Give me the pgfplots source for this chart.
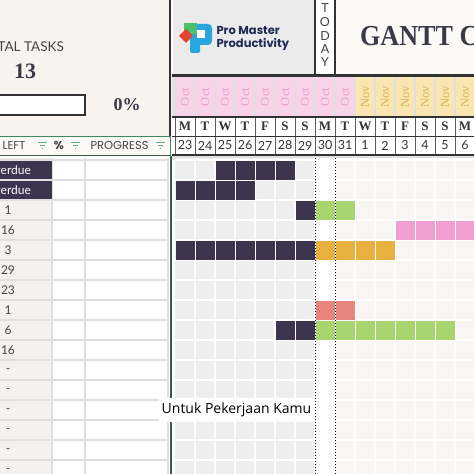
\documentclass[border=0pt]{standalone}
\usepackage{pgfplots}
\pgfplotsset{compat=1.18}
\usepackage{fontspec}
\setmainfont{Lato}
\newfontfamily\serifb{Liberation Serif}
\newfontfamily\popp{Poppins}
\newfontfamily\osans{Open Sans}
\definecolor{cream}{HTML}{F7F4F0}
\definecolor{headcream}{HTML}{FCFAF7}
\definecolor{logogray}{HTML}{EBEBEB}
\definecolor{darkline}{HTML}{333333}
\definecolor{navy}{HTML}{1D2B56}
\definecolor{gantttext}{HTML}{3B3946}
\definecolor{pinkcell}{HTML}{F8D3E9}
\definecolor{pinktext}{HTML}{E9A3CB}
\definecolor{yellowcell}{HTML}{FBE5B0}
\definecolor{yellowtext}{HTML}{D6B457}
\definecolor{pastcell}{HTML}{EEEEEE}
\definecolor{futurecell}{HTML}{F8F5F2}
\definecolor{bardark}{HTML}{3D3550}
\definecolor{bargreen}{HTML}{A8D46F}
\definecolor{barpink}{HTML}{EF9FD2}
\definecolor{barorange}{HTML}{E9B03F}
\definecolor{barsalmon}{HTML}{E8847E}
\definecolor{leftcol}{HTML}{F5F1EE}
\definecolor{gridgray}{HTML}{E0E0E0}
\definecolor{greenline}{HTML}{3E8A60}
\definecolor{darkgreen}{HTML}{40594B}
\definecolor{filtericon}{HTML}{6AA585}
\definecolor{textgray}{HTML}{444444}
\definecolor{logoblue}{HTML}{2AA6DF}
\definecolor{logogreen}{HTML}{4CBF6B}
\definecolor{logored}{HTML}{E2452F}

\pgfplotstableread{
col row
2 1
3 1
4 1
5 1
0 2
1 2
2 2
3 2
6 3
0 5
1 5
2 5
3 5
4 5
5 5
6 5
5 9
6 9
}\darkbars
\pgfplotstableread{
col row
7 3
8 3
7 9
8 9
9 9
10 9
11 9
12 9
13 9
}\greenbars
\pgfplotstableread{
col row
11 4
12 4
13 4
14 4
}\pinkbars
\pgfplotstableread{
col row
7 5
8 5
9 5
10 5
}\orangebars
\pgfplotstableread{
col row
7 8
8 8
}\salmonbars

\begin{document}
\begin{tikzpicture}
% ---------- decorations in pixel coordinates (x right, y down) ----------
\begin{scope}[shift={(0pt,474pt)}, x=1pt, y=-1pt]
  % left top panel
  \fill[cream] (0,0) rectangle (172,136);
  \node[anchor=east, inner sep=0pt, font=\fontsize{13.5}{13.5}\selectfont, text=textgray] at (64,47) {TOTAL TASKS};
  \node[font=\serifb\bfseries\fontsize{22}{22}\selectfont, text=gantttext] at (25,71) {13};
  \draw[line width=2pt, darkline, fill=white] (-5,95.5) rectangle (84.5,115.5);
  \node[font=\serifb\bfseries\fontsize{18}{18}\selectfont, text=gantttext] at (127,105) {0\%};
  \draw[line width=2pt, darkline] (169.5,0) -- (169.5,136);
  % header row of table
  \fill[headcream] (0,136) rectangle (170,156);
  \draw[greenline, line width=1pt] (0,136.5) -- (170.5,136.5) -- (170.5,156);
  \draw[darkgreen, line width=1.2pt] (0,155.5) -- (170,155.5);
  \node[anchor=west, font=\popp\fontsize{11.5}{11.5}\selectfont, text=textgray] at (-1,145.5) {LEFT};
  \node[font=\popp\bfseries\fontsize{11.5}{11.5}\selectfont, text=textgray] at (59,145.5) {\%};
  \node[anchor=west, font=\popp\fontsize{11.5}{11.5}\selectfont, text=textgray] at (87,145.5) {PROGRESS};
  \foreach \fx in {42.5,75.5,160.5}{
    \draw[filtericon, line width=1pt] (\fx-4.5,142.5) -- (\fx+4.5,142.5);
    \draw[filtericon, line width=1pt] (\fx-2.5,145.5) -- (\fx+2.5,145.5);
    \draw[filtericon, line width=1pt] (\fx-0.8,148.5) -- (\fx+0.8,148.5);
  }
  % table body
  \fill[white] (0,156) rectangle (172,474);
  \fill[leftcol] (0,158) rectangle (52,474);
  \foreach \yy in {160,180,...,460}{
    \draw[gridgray, line width=1.5pt] (0,\yy) -- (168,\yy);
  }
  \draw[gridgray, line width=1.5pt] (52,158) -- (52,474);
  \draw[gridgray, line width=1.5pt] (85,158) -- (85,474);
  \draw[gridgray, line width=1.5pt] (168,158) -- (168,474);
  \fill[bardark] (0,161) rectangle (51.5,179.5);
  \fill[bardark] (0,181) rectangle (51.5,199.5);
  \node[font=\fontsize{12}{12}\selectfont, text=white] at (8,170) {Overdue};
  \node[font=\fontsize{12}{12}\selectfont, text=white] at (8,190) {Overdue};
  \foreach \v [count=\i] in {1,16,3,29,23,1,6,16,-,-,-,-,-,-}{
    \node[font=\fontsize{12}{12}\selectfont, text=textgray] at (8,190+20*\i) {\v};
  }
  \draw[darkgreen, line width=2pt] (171,156) -- (171,474);
  % gantt header
  \fill[logogray] (173,0) rectangle (314,74);
  \fill[white] (314,0) rectangle (336,74);
  \fill[headcream] (336,0) rectangle (474,74);
  \draw[darkline, line width=2pt] (315,0) -- (315,75);
  \draw[darkline, line width=2pt] (335,0) -- (335,75);
  \foreach \ch/\yy in {T/8,O/22,D/36,A/49,Y/62}{
    \node[font=\fontsize{12.5}{12.5}\selectfont, text=textgray] at (325,\yy) {\ch};
  }
  \node[anchor=base west, font=\serifb\bfseries\fontsize{29}{29}\selectfont, text=gantttext, xscale=0.9] at (357,46) {GANTT CHART};
  % logo
  \fill[logoblue, rounded corners=4pt] (190,24) rectangle (212,45);
  \fill[logoblue, rounded corners=2pt] (190,30) rectangle (200,53);
  \fill[white] (197,30) rectangle (205,38);
  \fill[logogreen] (184,23) rectangle (197,34);
  \fill[logored] (179,36) -- (186,29) -- (193,36) -- (186,43) -- cycle;
  \node[anchor=west, font=\popp\bfseries\fontsize{11.5}{11.5}\selectfont, text=navy] at (213,31) {Pro Master};
  \node[anchor=west, font=\popp\bfseries\fontsize{11.5}{11.5}\selectfont, text=navy] at (213,44) {Productivity};
  % month row
  \fill[darkline] (172,74) rectangle (474,77);
  \fill[gridgray] (172,77) rectangle (474,117);
  \foreach \i in {0,...,8}{
    \fill[pinkcell] (175.6+20*\i,77) rectangle (194.4+20*\i,116.5);
    \node[rotate=90, font=\serifb\fontsize{12.5}{12.5}\selectfont, text=pinktext] at (185+20*\i,97) {Oct};
  }
  \foreach \i in {9,...,14}{
    \fill[yellowcell] (175.6+20*\i,77) rectangle (194.4+20*\i,116.5);
    \node[rotate=90, font=\serifb\fontsize{12.5}{12.5}\selectfont, text=yellowtext] at (185+20*\i,97) {Nov};
  }
  % day letter and date rows
  \fill[white] (172,117) rectangle (474,155);
  \foreach \d [count=\i from 0] in {M,T,W,T,F,S,S,M,T,W,T,F,S,S,M}{
    \node[font=\serifb\bfseries\fontsize{13}{13}\selectfont, text=darkline] at (185+20*\i,126.5) {\d};
  }
  \foreach \d [count=\i from 0] in {23,24,25,26,27,28,29,30,31,1,2,3,4,5,6}{
    \node[font=\fontsize{12.5}{12.5}\selectfont, text=darkline] at (185+20*\i,145.5) {\d};
  }
  \foreach \i in {0,...,15}{
    \draw[darkline!80, line width=0.9pt] (175+20*\i,117) -- (175+20*\i,155);
  }
  \draw[darkline, line width=1.5pt] (172,117) -- (474,117);
  \draw[darkline, line width=1.2pt] (172,136.5) -- (474,136.5);
  \draw[darkline, line width=2pt] (172,155.5) -- (474,155.5);
  \fill[gridgray] (172,156.5) rectangle (474,160);
\end{scope}

% ---------- the gantt chart ----------
\begin{axis}[
  at={(175pt,0pt)}, anchor=south west,
  width=299pt, height=316pt, scale only axis,
  xmin=-0.5, xmax=14.45, ymin=0.4, ymax=16.2,
  y dir=reverse, hide axis, clip=true,
]
  \fill[pastcell] (axis cs:-0.5,0.4) rectangle (axis cs:6.5,16.2);
  \fill[white] (axis cs:6.5,0.4) rectangle (axis cs:7.5,16.2);
  \fill[futurecell] (axis cs:7.5,0.4) rectangle (axis cs:14.45,16.2);
  \pgfplotsinvokeforeach{0,...,14}{
    \draw[white, line width=1.6pt] (axis cs:#1.5,0.4) -- (axis cs:#1.5,16.2);
  }
  \pgfplotsinvokeforeach{0,...,16}{
    \draw[white, line width=1.6pt] (axis cs:-0.5,#1.5) -- (axis cs:14.45,#1.5);
  }
  \draw[black, dotted, line width=1pt] (axis cs:6.5,0.4) -- (axis cs:6.5,16.2);
  \draw[black, dotted, line width=1pt] (axis cs:7.5,0.4) -- (axis cs:7.5,16.2);
  \addplot[only marks, mark=square*, mark size=9pt, color=bardark, mark options={line width=0.4pt}] table[x=col,y=row] {\darkbars};
  \addplot[only marks, mark=square*, mark size=9pt, color=bargreen, mark options={line width=0.4pt}] table[x=col,y=row] {\greenbars};
  \addplot[only marks, mark=square*, mark size=9pt, color=barpink, mark options={line width=0.4pt}] table[x=col,y=row] {\pinkbars};
  \addplot[only marks, mark=square*, mark size=9pt, color=barorange, mark options={line width=0.4pt}] table[x=col,y=row] {\orangebars};
  \addplot[only marks, mark=square*, mark size=9pt, color=barsalmon, mark options={line width=0.4pt}] table[x=col,y=row] {\salmonbars};
\end{axis}

% ---------- caption overlay ----------
\begin{scope}[shift={(0pt,474pt)}, x=1pt, y=-1pt]
  \fill[white] (159,398) rectangle (314,422);
  \node[font=\osans\fontsize{14}{14}\selectfont, text=black] at (236.5,410) {Untuk Pekerjaan Kamu};
\end{scope}
\pgfresetboundingbox
\useasboundingbox (0,0) rectangle (474pt,474pt);
\end{tikzpicture}
\end{document}
